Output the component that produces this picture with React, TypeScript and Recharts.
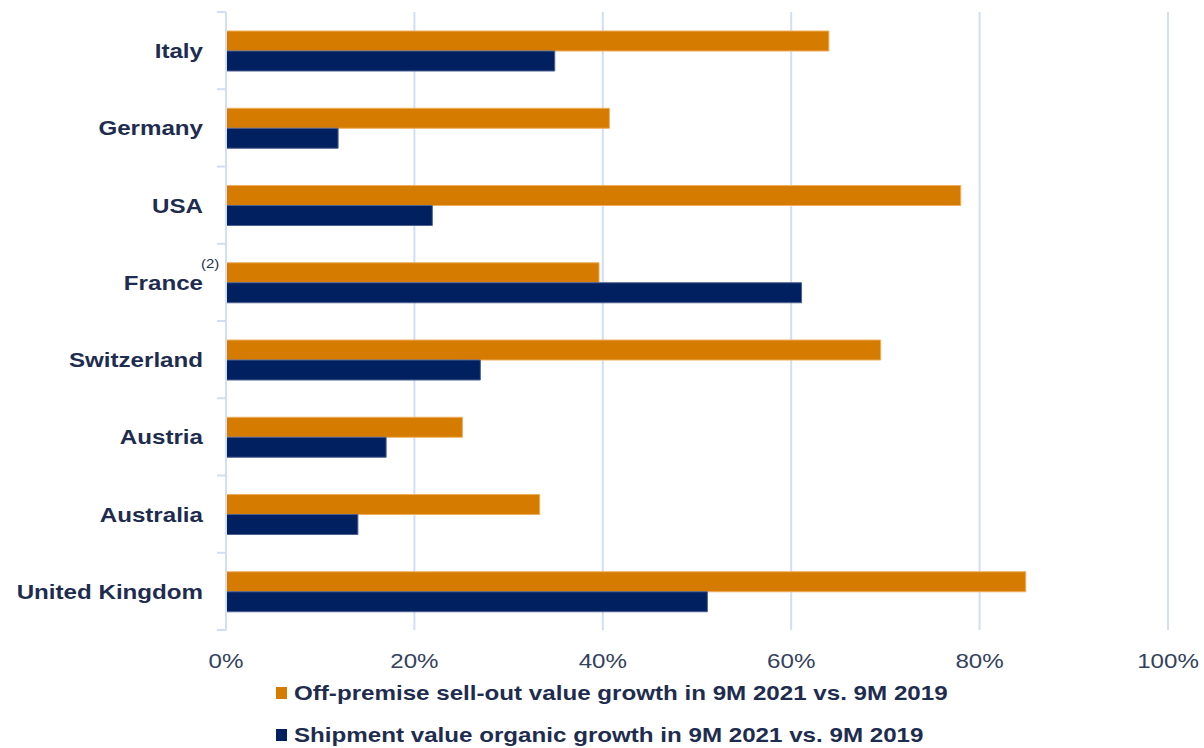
import React from "react";
import {
  BarChart,
  Bar,
  XAxis,
  YAxis,
  CartesianGrid,
  Legend,
} from "recharts";

const countries = [
  "Italy",
  "Germany",
  "USA",
  "France",
  "Switzerland",
  "Austria",
  "Australia",
  "United Kingdom",
];
const sellOutGrowth = [64.0, 40.7, 78.0, 39.6, 69.5, 25.1, 33.3, 84.9];
const shipmentGrowth = [34.9, 11.9, 21.9, 61.1, 27.0, 17.0, 14.0, 51.1];
const footnotes: Record<string, string> = { France: "(2)" };
const xTicks = [0, 20, 40, 60, 80, 100];

const sellOutName = "Off-premise sell-out value growth in 9M 2021 vs. 9M 2019";
const shipmentName = "Shipment value organic growth in 9M 2021 vs. 9M 2019";

const ORANGE = "#D47B00";
const NAVY = "#002060";
const GRID = "#D2DEF3";
const TEXT = "#1E2D4F";
const FONT = '"Liberation Sans", Arial, sans-serif';
// the source text is a bit wider than plain Arial
const STRETCH = 1.15;

const data = countries.map((name, i) => ({
  name,
  sellOut: sellOutGrowth[i],
  shipment: shipmentGrowth[i],
}));

const WIDTH = 1204;
const HEIGHT = 748;
const PLOT_TOP = 12;
const PLOT_BOTTOM = 630;
const AXIS_X = 226;
const BAND = (PLOT_BOTTOM - PLOT_TOP) / countries.length;

const CategoryTick = (props: any) => {
  const { y, payload, index } = props;
  const note = footnotes[payload.value];
  return (
    <g>
      <line x1={217} x2={AXIS_X} y1={y - BAND / 2} y2={y - BAND / 2} stroke={GRID} strokeWidth={2} />
      {index === countries.length - 1 && (
        <line x1={217} x2={AXIS_X} y1={y + BAND / 2} y2={y + BAND / 2} stroke={GRID} strokeWidth={2} />
      )}
      <g transform={`translate(203, ${y}) scale(${STRETCH}, 1)`}>
        <text
          x={0}
          y={0}
          dy="0.36em"
          textAnchor="end"
          fill={TEXT}
          fontFamily={FONT}
          fontWeight="bold"
          fontSize={21}
        >
          {payload.value}
        </text>
      </g>
      {note && (
        <g transform={`translate(201, ${y - 14}) scale(${STRETCH}, 1)`}>
          <text x={0} y={0} fill={TEXT} fontFamily={FONT} fontSize={13}>
            {note}
          </text>
        </g>
      )}
    </g>
  );
};

const PercentTick = (props: any) => {
  const { x, payload } = props;
  return (
    <g transform={`translate(${x}, 668) scale(${STRETCH}, 1)`}>
      <text
        x={0}
        y={0}
        textAnchor="middle"
        fill="#34425E"
        fontFamily={FONT}
        fontSize={21}
      >
        {payload.value + "%"}
      </text>
    </g>
  );
};

const LegendContent = () => {
  const items = [
    { name: sellOutName, color: ORANGE },
    { name: shipmentName, color: NAVY },
  ];
  return (
    <div>
      {items.map((it) => (
        <div
          key={it.name}
          style={{ display: "flex", alignItems: "center", height: 42 }}
        >
          <span
            style={{
              display: "inline-block",
              width: 11,
              height: 12,
              background: it.color,
              marginRight: 7,
            }}
          />
          <span
            style={{
              display: "inline-block",
              fontFamily: FONT,
              fontWeight: "bold",
              fontSize: 21,
              color: TEXT,
              whiteSpace: "nowrap",
              transform: `scaleX(${STRETCH})`,
              transformOrigin: "left center",
            }}
          >
            {it.name}
          </span>
        </div>
      ))}
    </div>
  );
};

export default function App() {
  return (
    <div style={{ position: "absolute", left: 0, top: 0, background: "#fff" }}>
      <BarChart
        width={WIDTH}
        height={HEIGHT}
        data={data}
        layout="vertical"
        barGap={0}
        margin={{ top: PLOT_TOP, right: WIDTH - 1168, bottom: HEIGHT - PLOT_BOTTOM - 40, left: 0 }}
      >
        <CartesianGrid horizontal={false} stroke={GRID} strokeWidth={2} />
        <XAxis
          type="number"
          domain={[0, 100]}
          ticks={xTicks}
          axisLine={false}
          tickLine={false}
          height={40}
          tick={<PercentTick />}
        />
        <YAxis
          type="category"
          dataKey="name"
          width={AXIS_X}
          axisLine={{ stroke: GRID, strokeWidth: 2 }}
          tickLine={false}
          interval={0}
          tick={<CategoryTick />}
        />
        <Legend
          layout="vertical"
          align="center"
          verticalAlign="middle"
          wrapperStyle={{ position: "absolute", top: 672, left: 276, width: "auto" }}
          content={<LegendContent />}
        />
        <Bar
          dataKey="sellOut"
          name={sellOutName}
          fill={ORANGE}
          stroke="#EFAE5C"
          strokeWidth={1}
          barSize={20}
          isAnimationActive={false}
        />
        <Bar
          dataKey="shipment"
          name={shipmentName}
          fill={NAVY}
          stroke="#4C6190"
          strokeWidth={1}
          barSize={20}
          isAnimationActive={false}
        />
      </BarChart>
    </div>
  );
}
